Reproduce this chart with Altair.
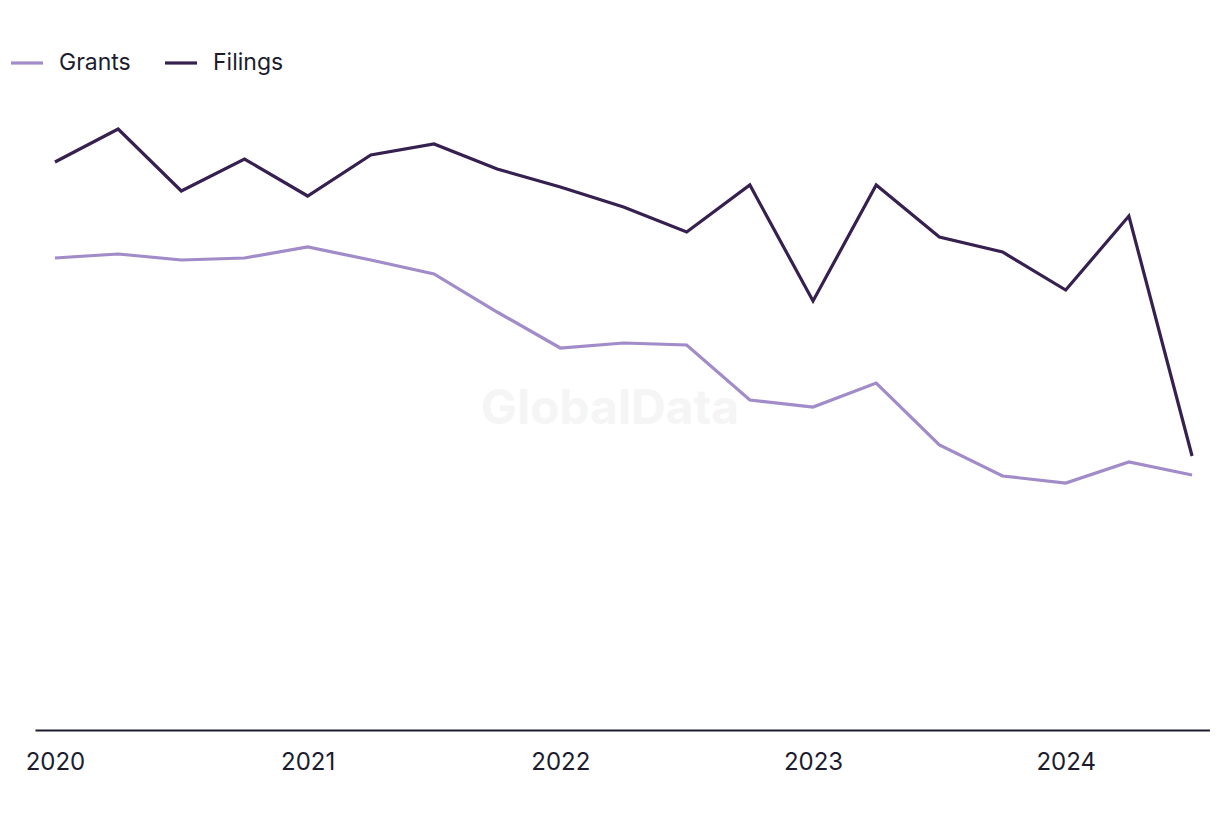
import altair as alt
import pandas as pd

quarters = ["2020Q1","2020Q2","2020Q3","2020Q4","2021Q1","2021Q2","2021Q3","2021Q4",
            "2022Q1","2022Q2","2022Q3","2022Q4","2023Q1","2023Q2","2023Q3","2023Q4",
            "2024Q1","2024Q2","2024Q3"]
filings = [56.8, 60.1, 53.9, 57.1, 53.4, 57.5, 58.6, 56.1, 54.3, 52.3, 49.8, 54.5,
           42.9, 54.5, 49.3, 47.8, 44.0, 51.4, 27.4]
grants = [47.2, 47.6, 47.0, 47.2, 48.3, 47.0, 45.6, 41.8, 38.2, 38.7, 38.5, 33.0,
          32.3, 34.7, 28.5, 25.4, 24.7, 26.8, 25.5]
series_names = ["Grants", "Filings"]
series_colors = ["#a18bc8", "#36204f"]
year_ticks = [2020, 2021, 2022, 2023, 2024]

rows = []
for q, g, f in zip(quarters, grants, filings):
    t = int(q[:4]) + (int(q[-1]) - 1) / 4
    rows.append({"t": t, "series": "Grants", "value": g})
    rows.append({"t": t, "series": "Filings", "value": f})
df = pd.DataFrame(rows)

FONT = "Inter"
TXT = "#1c1c2e"

lines = alt.Chart(df).mark_line(strokeWidth=3.2).encode(
    x=alt.X("t:Q",
            scale=alt.Scale(domain=[2019.921, 2024.571], nice=False, zero=False),
            axis=alt.Axis(values=year_ticks, format="d", title=None, ticks=False, grid=False,
                          domainColor=TXT, domainWidth=2, labelFont=FONT, labelFontSize=24,
                          labelColor=TXT, labelPadding=20, labelFlush=False)),
    y=alt.Y("value:Q", scale=alt.Scale(domain=[0, 70], nice=False), axis=None),
    color=alt.Color("series:N",
                    scale=alt.Scale(domain=series_names, range=series_colors),
                    sort=series_names,
                    legend=alt.Legend(title=None, orient="none", legendX=-26, legendY=15,
                                      direction="horizontal", symbolType="stroke",
                                      symbolSize=1024, symbolStrokeWidth=3.2,
                                      labelFont=FONT, labelFontSize=23, labelColor=TXT,
                                      columnPadding=27, labelOffset=14)),
)

watermark = alt.Chart(pd.DataFrame({"label": ["GlobalData"]})).mark_text(
    font=FONT, fontSize=48, fontWeight="bold", color="#f5f5f5"
).encode(text="label:N", x=alt.value(575), y=alt.value(380))

chart = alt.layer(watermark, lines).properties(
    width=1175, height=700,
    autosize=alt.AutoSizeParams(type="none"),
    padding={"left": 27, "top": 22, "right": 0, "bottom": 70},
).configure(background="white").configure_view(strokeWidth=0)

chart.save("out.html", embed_options={"renderer": "svg", "actions": False})
